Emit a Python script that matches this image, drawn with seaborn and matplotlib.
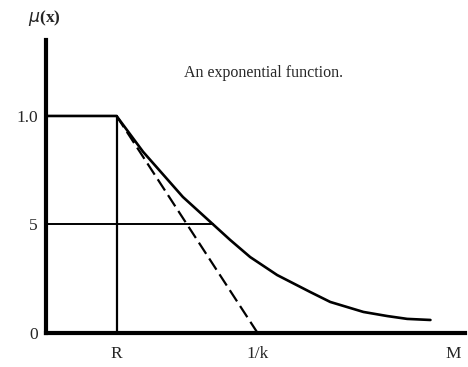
import matplotlib
matplotlib.use("Agg")
import matplotlib.pyplot as plt
import seaborn as sns
import pandas as pd

# Membership function: flat at 1 up to R, then exponential decay
x_curve = [0.0, 1.0, 1.376, 1.94, 2.37, 2.61, 2.894, 3.277, 3.745, 4.03,
           4.50, 4.84, 5.12, 5.45]
mu_curve = [1.0, 1.0, 0.835, 0.627, 0.50, 0.429, 0.350, 0.267, 0.189, 0.143,
            0.097, 0.078, 0.065, 0.060]

# Tangent at R, reaching zero at 1/k
x_tangent = [1.0, 3.0]
mu_tangent = [1.0, 0.0]

# Guide lines
r_pos = 1.0
half_mu = 0.5
half_x = 2.37

x_ticks = [1.0, 3.0, 5.77]
x_tick_labels = ["R", "1/k", "M"]
y_ticks = [0.0, 0.5, 1.0]
y_tick_labels = ["0", "5", "1.0"]

sns.set_style("white")
plt.rcParams["font.family"] = ["Liberation Serif", "DejaVu Serif"]

fig = plt.figure(figsize=(4.68, 3.67), dpi=100)
ax = fig.add_axes([46 / 468, 1 - 333 / 367, (465 - 46) / 468, (333 - 40) / 367])

curve = pd.DataFrame({"x": x_curve, "mu": mu_curve})
tangent = pd.DataFrame({"x": x_tangent, "mu": mu_tangent})

sns.lineplot(data=curve, x="x", y="mu", ax=ax, color="black", lw=1.9,
             sort=False, estimator=None)
sns.lineplot(data=tangent, x="x", y="mu", ax=ax, color="black", lw=1.6,
             sort=False, estimator=None, dashes=False, linestyle=(0, (6, 2.5)))

ax.plot([r_pos, r_pos], [0, 1.0], color="black", lw=1.6)
ax.plot([0, half_x], [half_mu, half_mu], color="black", lw=1.4)

ax.set_xlim(0, 5.94)
ax.set_ylim(0, 1.35)

for side in ("top", "right"):
    ax.spines[side].set_visible(False)
for side in ("left", "bottom"):
    ax.spines[side].set_linewidth(3.0)
    ax.spines[side].set_color("black")

ax.set_xticks(x_ticks)
ax.set_xticklabels(x_tick_labels, fontsize=12.5)
ax.set_yticks(y_ticks)
ax.set_yticklabels(y_tick_labels, fontsize=12.5)
ax.tick_params(axis="both", length=0)
ax.tick_params(axis="x", pad=9)
ax.tick_params(axis="y", pad=6)
ax.set_xlabel("")
ax.set_ylabel("")

fig.text(44 / 468, 1 - 18 / 367, r"$\mu$(x)", fontsize=12.5, ha="center", va="center",
         fontweight="bold")
fig.text(264 / 468, 1 - 73 / 367, "An exponential function.", fontsize=11.5,
         ha="center", va="center")

fig.savefig("out.png", dpi=100)
